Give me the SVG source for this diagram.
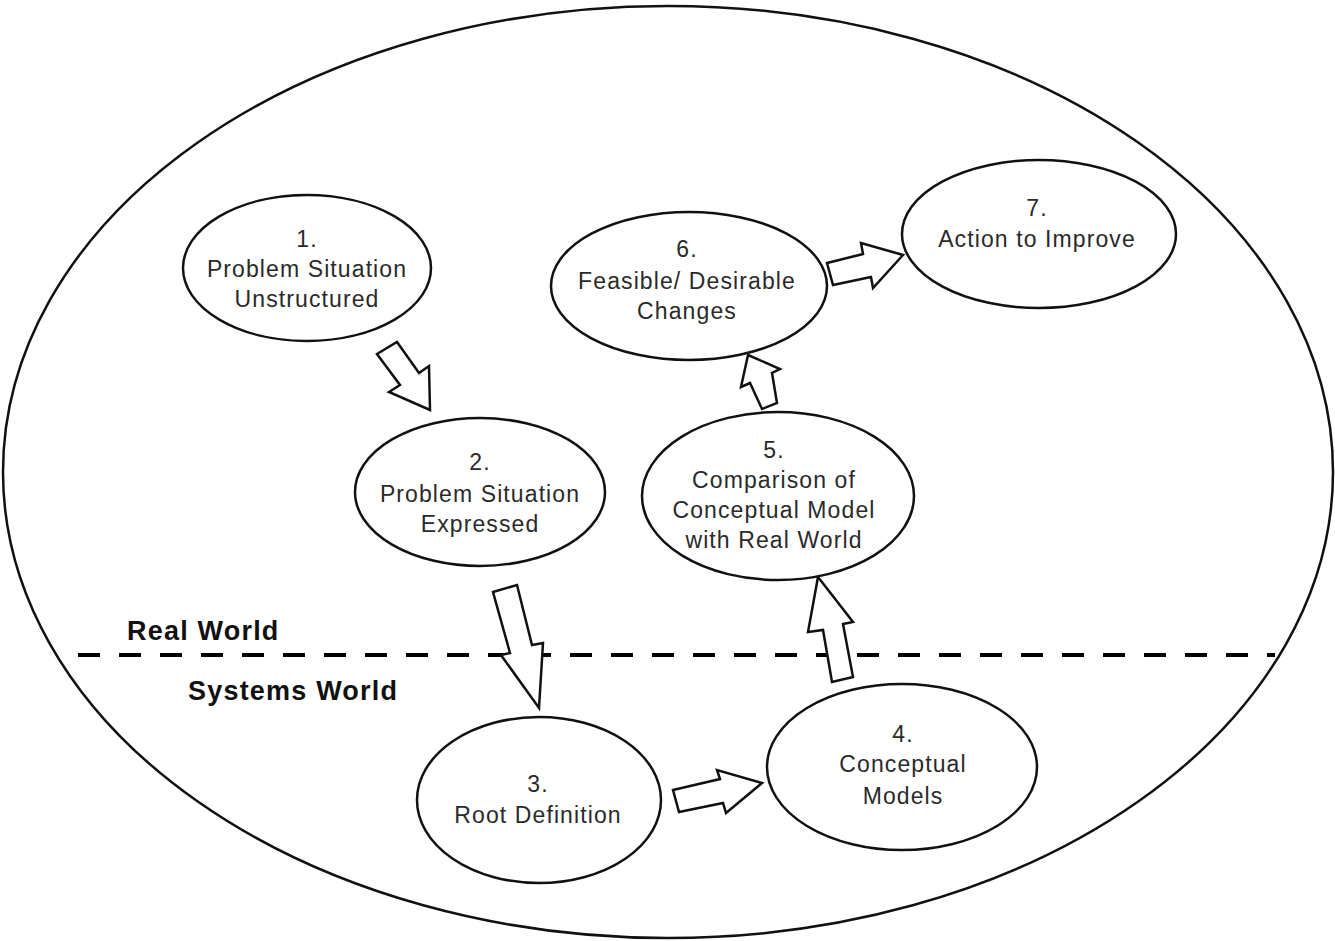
<svg xmlns="http://www.w3.org/2000/svg" width="1335" height="941" viewBox="0 0 1335 941">
<style>
.bg{fill:#fff}
.outer{fill:none;stroke:#111;stroke-width:2.5}
.node{fill:#fff;stroke:#111;stroke-width:2.5}
.arr{fill:#fff;stroke:#111;stroke-width:2.5;stroke-linejoin:miter}
.t{font-family:"Liberation Sans",Arial,sans-serif;font-size:23px;fill:#2a2a2a;text-anchor:middle;letter-spacing:1.1px}
.lbl{font-family:"Liberation Sans",Arial,sans-serif;font-size:27px;font-weight:bold;fill:#111;letter-spacing:1.2px}
.div{stroke:#000;stroke-width:4;stroke-dasharray:22 19}
</style>
<rect class="bg" x="0" y="0" width="1335" height="941"/>
<ellipse class="outer" cx="668" cy="472" rx="665" ry="466"/>
<line class="div" x1="78" y1="655" x2="1275" y2="655"/>
<text class="lbl" x="127" y="640">Real World</text>
<text class="lbl" x="188" y="700">Systems World</text>
<g id="connectors">
<polygon class="arr" points="377,354 397,342 419,373 429,366 430,410 389,392 400,385"/>
<polygon class="arr" points="493,592 517,585 532,645 543,643 539,708 501,655 510,653"/>
<polygon class="arr" points="673,790 720,779 717,770 762,783 726,813 723,803 679,812"/>
<polygon class="arr" points="818,577 853,622 843,624 853,677 832,682 823,630 808,632"/>
<polygon class="arr" points="748,355 780,369 772,373 777,403 762,409 750,383 741,387"/>
<polygon class="arr" points="827,263 863,254 861,243 903,255 873,288 871,277 833,285"/>
</g>
<g id="node1">
<ellipse class="node" cx="307" cy="268" rx="124" ry="73"/>
<text class="t" x="307" y="247">1.</text>
<text class="t" x="307" y="277">Problem Situation</text>
<text class="t" x="307" y="307">Unstructured</text>
</g>
<g id="node2">
<ellipse class="node" cx="480" cy="492" rx="125" ry="74"/>
<text class="t" x="480" y="470">2.</text>
<text class="t" x="480" y="502">Problem Situation</text>
<text class="t" x="480" y="532">Expressed</text>
</g>
<g id="node3">
<ellipse class="node" cx="539" cy="800" rx="122" ry="83"/>
<text class="t" x="538" y="792">3.</text>
<text class="t" x="538" y="823">Root Definition</text>
</g>
<g id="node4">
<ellipse class="node" cx="902" cy="767" rx="135" ry="83"/>
<text class="t" x="903" y="742">4.</text>
<text class="t" x="903" y="772">Conceptual</text>
<text class="t" x="903" y="804">Models</text>
</g>
<g id="node5">
<ellipse class="node" cx="778" cy="496" rx="136" ry="84"/>
<text class="t" x="774" y="458">5.</text>
<text class="t" x="774" y="488">Comparison of</text>
<text class="t" x="774" y="518">Conceptual Model</text>
<text class="t" x="774" y="548">with Real World</text>
</g>
<g id="node6">
<ellipse class="node" cx="689" cy="286" rx="138" ry="74"/>
<text class="t" x="687" y="257">6.</text>
<text class="t" x="687" y="289">Feasible/ Desirable</text>
<text class="t" x="687" y="319">Changes</text>
</g>
<g id="node7">
<ellipse class="node" cx="1039" cy="234" rx="137" ry="74"/>
<text class="t" x="1037" y="216">7.</text>
<text class="t" x="1037" y="247">Action to Improve</text>
</g>
</svg>
